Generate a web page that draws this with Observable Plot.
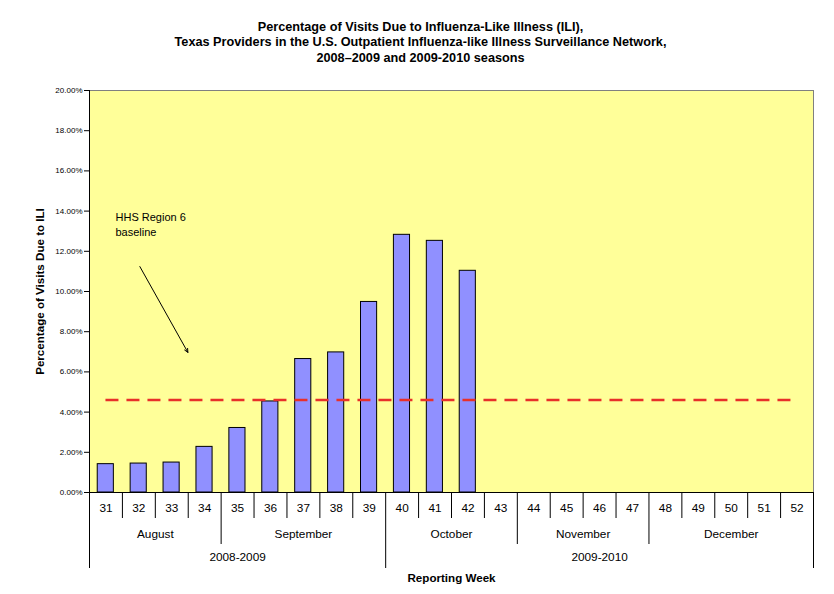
<!DOCTYPE html>
<html>
<head>
<meta charset="utf-8">
<script src="https://cdn.jsdelivr.net/npm/d3@7"></script>
<script src="https://cdn.jsdelivr.net/npm/@observablehq/plot@0.6"></script>
<style>
  html, body { margin: 0; padding: 0; background: #fff; }
</style>
</head>
<body>
<div id="chart"></div>
<script>
// ---- data ----
const weeks = [31,32,33,34,35,36,37,38,39,40,41,42,43,44,45,46,47,48,49,50,51,52];
const iliValues = [1.41,1.44,1.49,2.27,3.21,4.53,6.64,6.97,9.48,12.82,12.52,11.03];
const months = ["August","September","October","November","December"];
const monthFirstWeek = [31,35,40,44,48];
const monthLastWeek = [34,39,43,47,52];
const seasons = ["2008-2009","2009-2010"];
const seasonFirstWeek = [31,40];
const seasonLastWeek = [39,52];
const baselineValue = 4.60;
const yTicks = [0,2,4,6,8,10,12,14,16,18,20];
const titleLines = [
  "Percentage of Visits Due to Influenza-Like Illness (ILI),",
  "Texas Providers in the U.S. Outpatient Influenza-like Illness Surveillance Network,",
  "2008\u20132009 and 2009-2010 seasons"
];
const yLabel = "Percentage of Visits Due to ILI";
const xLabel = "Reporting Week";
const annotation = {x: 31.29, y: 13.36, text: "HHS Region 6\nbaseline"};
const arrowPts = [{x1: 32.03, y1: 11.24, x2: 33.49, y2: 6.97}];

// ---- layout ----
const W = 834, H = 594;
const mTop = 90, mBottom = 102, mLeft = 89, mRight = 21;
const yMax = 20;
const plotH = H - mTop - mBottom;
const plotW = W - mLeft - mRight;
const xMin = weeks[0] - 0.5, xMax = weeks[weeks.length - 1] + 0.5;
const below = px => -px * yMax / plotH;              // pixel offset below frame, in y units
const leftOf = px => xMin - px * (xMax - xMin) / plotW; // pixel offset left of frame, in x units

const bars = iliValues.map((v, i) => ({week: weeks[i], value: v}));

// separators between weeks: level 0 = week, 1 = month, 2 = season
const bounds = [];
for (let i = 0; i <= weeks.length; i++) {
  const pos = i === 0 ? xMin : weeks[i - 1] + 0.5;
  const w = i < weeks.length ? weeks[i] : null;
  let level = 0;
  if (i === 0 || i === weeks.length) level = 2;
  else if (seasonFirstWeek.includes(w)) level = 2;
  else if (monthFirstWeek.includes(w)) level = 1;
  bounds.push({pos, level});
}
const sepLen = [26, 52, 76];

const monthData = months.map((m, i) => ({name: m, x: (monthFirstWeek[i] + monthLastWeek[i]) / 2}));
const seasonData = seasons.map((s, i) => ({name: s, x: (seasonFirstWeek[i] + seasonLastWeek[i]) / 2}));

const font = "'Liberation Sans', Arial, sans-serif";
const titleDy = [-69, -53.5, -37.5];

const chart = Plot.plot({
  width: W,
  height: H,
  marginTop: mTop,
  marginBottom: mBottom,
  marginLeft: mLeft,
  marginRight: mRight,
  style: {fontFamily: font, fontSize: "8px", background: "#fff", color: "#000", overflow: "visible"},
  x: {domain: [xMin, xMax], axis: null},
  y: {domain: [0, yMax], ticks: yTicks, tickFormat: d => d.toFixed(2) + "%", tickSize: 5, tickPadding: 2, label: null},
  marks: [
    Plot.frame({fill: "#FFFF99", stroke: "#808080"}),
    // bars
    Plot.rectY(bars, {x1: d => d.week - 0.25, x2: d => d.week + 0.24, y: "value", fill: "#9090FF", stroke: "#000", strokeWidth: 1}),
    // baseline
    Plot.ruleY([baselineValue], {x1: weeks[0], x2: weeks[weeks.length - 1], stroke: "#e8302a", strokeWidth: 2.5, strokeDasharray: "13,8"}),
    // axis lines
    Plot.ruleY([0], {stroke: "#000", strokeWidth: 1}),
    Plot.ruleX([xMin], {stroke: "#000", strokeWidth: 1}),
    // annotation
    Plot.text([annotation], {x: "x", y: "y", text: "text", textAnchor: "start", lineAnchor: "middle", lineHeight: 1.36, fontSize: 11, fill: "#000"}),
    Plot.arrow(arrowPts, {x1: "x1", y1: "y1", x2: "x2", y2: "y2", stroke: "#000", strokeWidth: 1, headLength: 6, headAngle: 50, bend: 0}),
    // category axis separators
    Plot.ruleX(bounds, {x: "pos", y1: 0, y2: d => below(sepLen[d.level]), stroke: "#000", strokeWidth: 1}),
    // week labels
    Plot.text(weeks, {x: d => d, frameAnchor: "bottom", dy: 19, text: d => String(d), fontSize: 11.8, fill: "#000"}),
    // month labels
    Plot.text(monthData, {x: "x", frameAnchor: "bottom", dy: 45, text: "name", fontSize: 11.8, fill: "#000"}),
    // season labels
    Plot.text(seasonData, {x: "x", frameAnchor: "bottom", dy: 68, text: "name", fontSize: 11.8, fill: "#000"}),
    // x title
    Plot.text([xLabel], {frameAnchor: "bottom", dy: 89, fontSize: 11.6, fontWeight: "bold", fill: "#000"}),
    // y title
    Plot.text([yLabel], {x: () => leftOf(49), y: () => yMax / 2, rotate: -90, fontSize: 11.6, fontWeight: "bold", fill: "#000"}),
    // chart title lines
    ...titleLines.map((t, i) =>
      Plot.text([t], {frameAnchor: "top", dx: -31, dy: titleDy[i], fontSize: 12.7, fontWeight: "bold", fill: "#000"})
    )
  ]
});

document.getElementById("chart").appendChild(chart);
</script>
</body>
</html>
